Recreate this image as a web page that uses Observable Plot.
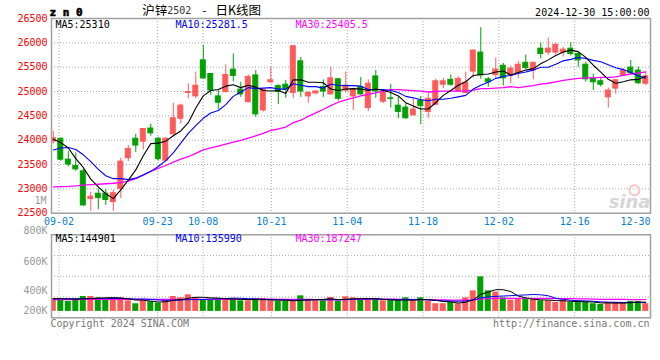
<!DOCTYPE html>
<html><head><meta charset="utf-8">
<script src="https://cdn.jsdelivr.net/npm/d3@7"></script>
<script src="https://cdn.jsdelivr.net/npm/@observablehq/plot@0.6"></script>
<style>
body{margin:0;background:#fff;}
#wrap{position:relative;width:660px;height:360px;overflow:hidden;background:#fff;}
#wrap svg{position:absolute;left:0;}
</style></head><body><div id="wrap"></div>
<script>
const dates = ["08-30","09-02","09-03","09-04","09-05","09-06","09-09","09-10","09-11","09-12","09-13","09-18","09-19","09-20","09-23","09-24","09-25","09-26","09-27","09-30","10-08","10-09","10-10","10-11","10-14","10-15","10-16","10-17","10-18","10-21","10-22","10-23","10-24","10-25","10-28","10-29","10-30","10-31","11-01","11-04","11-05","11-06","11-07","11-08","11-11","11-12","11-13","11-14","11-15","11-18","11-19","11-20","11-21","11-22","11-25","11-26","11-27","11-28","11-29","12-02","12-03","12-04","12-05","12-06","12-09","12-10","12-11","12-12","12-13","12-16","12-17","12-18","12-19","12-20","12-23","12-24","12-25","12-26","12-27","12-30"];
const open = [23970,24030,23600,23470,23360,22790,22900,22900,22730,23000,23630,24030,23970,24240,24030,23580,24120,24440,24970,24900,25640,25360,24900,24990,25450,25040,24780,25330,24610,25190,25110,25140,24970,25620,24900,24960,25090,24940,25250,25020,24900,25090,24660,25310,24790,24860,24710,24670,24510,24810,24580,24730,25140,25240,25000,24970,25410,25800,25250,25340,25530,25330,25380,25590,25430,25880,25800,25800,25800,25880,25770,25550,25260,25210,24880,25060,25330,25490,25430,25160];
const high = [24180,24050,23770,23740,23410,22930,23000,22990,22970,23630,23890,24120,24230,24330,24060,24060,24760,24740,25160,25400,25950,25370,25040,25550,25770,25190,25340,25430,25050,25500,25140,25230,25930,25700,25000,25020,25240,25500,25270,25400,25070,25290,25240,25430,25020,25140,24880,24750,24850,24900,24970,25250,25270,25340,25310,25400,25860,26310,25290,25690,25580,25520,25620,25750,25600,26000,26100,25990,25910,26000,25800,25600,25360,25290,25070,25250,25470,25640,25500,25400];
const low = [23920,23570,23450,23360,22640,22540,22570,22660,22540,22800,23560,23750,23800,24080,23570,23550,24100,24330,24850,24850,25250,24920,24630,24970,25200,24880,24770,24470,24580,25160,24730,24860,24860,24880,24760,24940,24880,24930,24800,24970,24610,24920,24590,24860,24750,24660,24440,24430,24500,24320,24450,24710,25060,25110,24990,24950,25270,25250,25090,25270,25110,25160,25260,25450,25240,25670,25740,25750,25710,25730,25500,25190,25020,25090,24660,24940,25310,25340,25140,25120];
const close = [24040,23600,23500,23400,22660,22840,22810,22770,22910,23560,23820,23890,24230,24140,23610,24030,24450,24710,24990,25120,25270,25020,24770,25340,25320,24940,25300,24530,25040,25230,24990,25040,25930,25000,24970,25000,25000,25270,24850,25120,25040,24940,25160,25000,24970,24850,24580,24450,24630,24700,24850,25210,25210,25140,25260,25180,25840,25330,25190,25450,25270,25470,25550,25480,25590,25770,25880,25960,25860,25770,25640,25250,25190,25140,25020,25230,25430,25380,25170,25310];
const ma5 = [24020,23950,23840,23620,23440,23200,23040,22900,22800,22980,23180,23390,23680,23930,23940,23980,24090,24190,24360,24660,24910,25020,25040,25110,25140,25080,25130,25090,25020,25010,25020,24960,25240,25240,25190,25190,25180,25050,25020,25050,25060,25050,25020,25050,25020,24980,24910,24770,24700,24640,24640,24770,24920,25020,25130,25200,25330,25350,25360,25400,25420,25340,25390,25440,25470,25570,25650,25740,25810,25850,25820,25700,25540,25400,25250,25170,25200,25240,25250,25310];
const ma10 = [23800,23840,23850,23810,23700,23560,23400,23270,23210,23210,23190,23220,23290,23360,23460,23580,23740,23940,24140,24300,24450,24560,24610,24730,24900,24990,25080,25060,25070,25080,25050,25050,25160,25130,25100,25100,25070,25150,25130,25120,25120,25110,25040,25040,25040,25020,24980,24900,24870,24830,24810,24840,24840,24860,24890,24920,25050,25130,25190,25270,25310,25330,25370,25400,25440,25500,25500,25560,25630,25660,25700,25680,25640,25610,25550,25490,25450,25390,25320,25280];
const ma30 = [23040,23045,23050,23060,23075,23085,23095,23105,23115,23130,23160,23210,23280,23360,23420,23480,23550,23610,23660,23730,23800,23840,23880,23920,23960,23995,24040,24090,24140,24200,24230,24270,24360,24410,24490,24560,24630,24710,24780,24830,24870,24910,24940,24970,25010,25040,25040,25030,25020,25010,24990,25000,25010,25010,25010,25010,25030,25060,25060,25070,25080,25100,25080,25100,25120,25150,25170,25200,25230,25250,25270,25280,25280,25290,25290,25300,25330,25360,25380,25405];
const volume = [203,182,156,198,234,234,213,187,213,208,166,120,166,151,130,187,234,213,260,213,187,187,198,198,198,166,166,198,198,166,156,156,156,244,187,187,166,218,156,229,213,187,198,177,166,166,166,213,166,213,156,120,120,140,120,213,322,541,322,302,213,177,187,187,187,166,166,140,177,140,156,140,120,109,140,140,140,156,156,120].map(v => v * 1000);
const vma5 = [200,200,195,192,195,201,207,213,216,211,197,179,175,162,147,151,174,183,205,221,221,212,209,197,194,189,185,185,185,179,177,175,166,176,180,186,188,200,183,191,196,201,197,201,188,179,175,178,175,185,183,174,155,150,131,143,183,267,304,340,340,311,240,213,190,181,179,169,167,158,156,151,147,133,133,130,130,137,146,145].map(v => v * 1000);
const vma10 = [195,196,197,198,200,202,203,203,203,203,199,193,194,189,179,174,176,179,184,184,186,193,196,201,208,205,199,197,191,186,183,180,176,180,179,181,181,183,179,186,191,194,199,192,190,188,188,187,188,187,181,174,166,163,158,163,178,211,227,236,241,247,254,258,265,260,245,205,190,174,168,165,158,150,145,143,140,142,140,136].map(v => v * 1000);
const vma30 = [185,185,186,186,187,187,188,188,188,188,188,189,189,189,189,189,190,190,190,190,190,190,190,190,190,190,190,190,191,191,189,189,189,190,189,187,185,186,185,185,187,189,190,191,192,191,189,189,186,186,185,183,180,178,176,177,182,194,198,203,204,205,206,204,204,204,204,201,202,199,197,195,193,190,190,189,188,186,186,187].map(v => v * 1000);

const priceTicks = [22500,23000,23500,24000,24500,25000,25500,26000,26500];
const dateTicks = ["09-02","09-23","10-08","10-21","11-04","11-18","12-02","12-16","12-30"];
const volTicks = ["800K","600K","400K","200K"];
const maLabels = ["MA5:25310","MA10:25281.5","MA30:25405.5"];
const vmaLabels = ["MA5:144901","MA10:135990","MA30:187247"];
const symbol = "z n 0";
const titleParts = ["沪锌", "2502", "-", "日K线图"];
const stamp = "2024-12-30 15:00:00";

const RED = "#ff5a5a", GREEN = "#00a000", GRID = "#a8a8a8", FRAME = "#a0a0a0";
const BLUE_T = "#0a7fd0", GREY_T = "#999";
const MONO = "DejaVu Sans Mono, Liberation Mono, monospace";
const CJK = "Noto Sans CJK SC";
const maColors = ["#000", "#0000ff", "#ff00ff"];

const rows = dates.map((d, i) => ({i, date: d, o: open[i], h: high[i], l: low[i], c: close[i], v: volume[i],
  col: close[i] >= open[i] ? RED : GREEN}));
const X = {domain: [-0.24, 79.63], axis: null};
// Date labels and their grid lines are spread evenly over the frame (first to last trading day)
const gridPos = d => X.domain[0] + dates.indexOf(d) / (dates.length - 1) * (X.domain[1] - X.domain[0]);
const style = {fontFamily: MONO, fontSize: "10px", background: "transparent", overflow: "visible"};
const T = (txt, o) => Plot.text(txt, {lineAnchor: "middle", ...o});

const main = Plot.plot({
  width: 660, height: 230,
  marginLeft: 51, marginRight: 10, marginTop: 18, marginBottom: 17.3,
  x: X, y: {domain: [22500, 26500], axis: null},
  color: {type: "identity"},
  style,
  marks: [
    Plot.ruleY(priceTicks.slice(1, -1), {stroke: GRID, strokeDasharray: "1,2"}),
    Plot.ruleX(dateTicks.slice(0, -1), {x: gridPos, stroke: GRID, strokeDasharray: "1,2"}),
    T(priceTicks, {y: d => d, text: d => String(d), frameAnchor: "left", dx: -4, textAnchor: "end", fill: "#f00"}),
    T(dateTicks.slice(0, -1), {x: gridPos, text: d => d, frameAnchor: "bottom", dy: 9, fill: BLUE_T}),
    T(dateTicks.slice(-1), {x: gridPos, text: d => d, frameAnchor: "bottom", dy: 9, dx: 0, textAnchor: "end", fill: BLUE_T}),
    T(["1M"], {frameAnchor: "bottom-left", dx: -5, dy: -12, textAnchor: "end", fill: GREY_T}),
    Plot.ruleX(rows, {x: "i", y1: "l", y2: "h", stroke: "col", strokeWidth: 1, clip: true}),
    Plot.rect(rows, {x1: d => d.i - 0.33, x2: d => d.i + 0.33, y1: "o", y2: "c", fill: "col", stroke: "col", strokeWidth: 1, clip: true}),
    Plot.line(rows, {x: "i", y: d => ma30[d.i], stroke: maColors[2], strokeWidth: 1.3, clip: true}),
    Plot.line(rows, {x: "i", y: d => ma10[d.i], stroke: maColors[1], strokeWidth: 1.1, clip: true}),
    Plot.line(rows, {x: "i", y: d => ma5[d.i], stroke: maColors[0], strokeWidth: 1.1, clip: true}),
    Plot.frame({stroke: FRAME, strokeWidth: 1.5}),
    T([symbol], {frameAnchor: "top-left", dx: -2, dy: -6, textAnchor: "start", fontWeight: "bold", fontSize: 11, fill: "#000", stroke: "#000", strokeWidth: 0.6}),
    T([titleParts[0]], {frameAnchor: "top-left", dx: 90.7, dy: -8, textAnchor: "start", fontFamily: CJK, fontSize: 12.5, fill: "#000"}),
    T([titleParts[1]], {frameAnchor: "top-left", dx: 115.7, dy: -7.5, textAnchor: "start", fontSize: 10, fill: "#333"}),
    T([titleParts[2]], {frameAnchor: "top-left", dx: 149.5, dy: -8, fontSize: 11, fill: "#000"}),
    T([titleParts[3]], {frameAnchor: "top-left", dx: 164, dy: -8, textAnchor: "start", fontFamily: CJK, fontSize: 12.5, fill: "#000"}),
    T([stamp], {frameAnchor: "top-right", dx: -1, dy: -6, textAnchor: "end", fill: "#000"}),
    T([maLabels[0]], {frameAnchor: "top-left", dx: 4, dy: 6, textAnchor: "start", fill: maColors[0]}),
    T([maLabels[1]], {frameAnchor: "top-left", dx: 124, dy: 6, textAnchor: "start", fill: maColors[1]}),
    T([maLabels[2]], {frameAnchor: "top-left", dx: 244, dy: 6, textAnchor: "start", fill: maColors[2]}),
    T(["sina"], {frameAnchor: "bottom-right", dx: 0, dy: -11, textAnchor: "end", fontSize: 18, fontStyle: "italic", fontWeight: "bold", fontFamily: "DejaVu Sans", fill: "#d6d6d6"}),
    Plot.dot([0], {frameAnchor: "bottom-right", dx: -16, dy: -23, r: 5, stroke: "#f6c4c4", strokeWidth: 2, fill: "none"})
  ]
});
main.style.top = "0px";

const vDomain = [-100000, 1200000];
const vGrid = [1, 2, 3].map(k => vDomain[0] + k * (vDomain[1] - vDomain[0]) / 4);
const vLabelDy = [-3.6, 26.7, 55.7, 75.7];
const vol = Plot.plot({
  width: 660, height: 130,
  marginLeft: 51, marginRight: 10, marginTop: 4.3, marginBottom: 42.7,
  x: X, y: {domain: vDomain, axis: null},
  color: {type: "identity"},
  style,
  marks: [
    Plot.ruleY(vGrid, {stroke: GRID, strokeDasharray: "1,2"}),
    Plot.ruleX(dateTicks.slice(0, -1), {x: gridPos, stroke: GRID, strokeDasharray: "1,2"}),
    ...volTicks.map((t, k) => T([t], {frameAnchor: "top-left", dx: -4, dy: vLabelDy[k], textAnchor: "end", fill: GREY_T})),
    Plot.rect(rows, {x1: d => d.i - 0.4, x2: d => d.i + 0.4, y1: 0, y2: "v", fill: "col", clip: true}),
    Plot.line(rows, {x: "i", y: d => vma30[d.i], stroke: maColors[2], strokeWidth: 1.2, clip: true}),
    Plot.line(rows, {x: "i", y: d => vma10[d.i], stroke: maColors[1], strokeWidth: 1, clip: true}),
    Plot.line(rows, {x: "i", y: d => vma5[d.i], stroke: maColors[0], strokeWidth: 1, clip: true}),
    Plot.frame({stroke: FRAME, strokeWidth: 1.5}),
    T([vmaLabels[0]], {frameAnchor: "top-left", dx: 4, dy: 4, textAnchor: "start", fill: maColors[0]}),
    T([vmaLabels[1]], {frameAnchor: "top-left", dx: 124, dy: 4, textAnchor: "start", fill: maColors[1]}),
    T([vmaLabels[2]], {frameAnchor: "top-left", dx: 244, dy: 4, textAnchor: "start", fill: maColors[2]}),
    T(["Copyright 2024 SINA.COM"], {frameAnchor: "bottom-left", dx: -1, dy: 6, textAnchor: "start", fill: "#777"}),
    T(["http://finance.sina.com.cn"], {frameAnchor: "bottom-right", dx: -1, dy: 6, textAnchor: "end", fill: "#777"})
  ]
});
vol.style.top = "230px";

const wrap = document.getElementById("wrap");
wrap.appendChild(main);
wrap.appendChild(vol);
</script></body></html>
